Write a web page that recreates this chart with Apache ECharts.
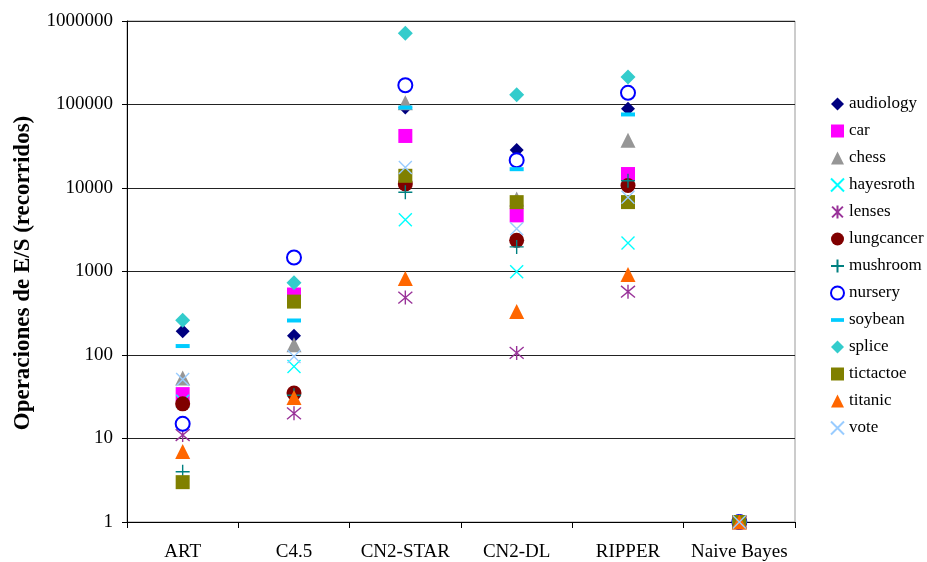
<!DOCTYPE html>
<html>
<head>
<meta charset="utf-8">
<script src="https://cdn.jsdelivr.net/npm/echarts@6/dist/echarts.min.js"></script>
<style>
  html, body { margin: 0; padding: 0; background: #fff; }
  #chart { width: 927px; height: 562px; }
</style>
</head>
<body>
<div id="chart"></div>
<script>
// Algorithms along the x axis
var algorithms = ['ART', 'C4.5', 'CN2-STAR', 'CN2-DL', 'RIPPER', 'Naive Bayes'];

// I/O operations per dataset, one value per algorithm
var audiology   = [193, 170, 92000, 28600, 88800, 1];
var car         = [34, 530, 42000, 4700, 14700, 1];
var chess       = [53, 133, 105000, 7400, 37300, 1];
var hayesroth   = [28, 73, 4160, 990, 2190, 1];
var lenses      = [11, 20, 487, 106, 573, 1];
var lungcancer  = [26, 35, 11200, 2360, 10700, 1];
var mushroom    = [4, 33, 8900, 1970, 12200, 1];
var nursery     = [15, 1470, 170000, 21500, 138000, 1];
var soybean     = [128, 259, 92000, 16800, 76000, 1];
var splice      = [261, 733, 713000, 131000, 214000, 1];
var tictactoe   = [3, 436, 14000, 6770, 6780, 1];
var titanic     = [7, 31, 826, 331, 921, 1];
var vote        = [51, 96, 17600, 3240, 7750, 1];

var yTicks = ['1', '10', '100', '1000', '10000', '100000', '1000000'];

var X_PATH = 'path://M0,0L10,10M10,0L0,10';
var STAR_PATH = 'path://M0,0L10,10M10,0L0,10M5,-1L5,11';
var PLUS_PATH = 'path://M5,0L5,10M0,5L10,5';
var DASH_PATH = 'path://M0,0L14,0L14,4L0,4Z';

var seriesDefs = [
  { name: 'audiology',  data: audiology,  symbol: 'diamond',  color: '#000080', size: 14 },
  { name: 'car',        data: car,        symbol: 'rect',     color: '#ff00ff', size: 14 },
  { name: 'chess',      data: chess,      symbol: 'triangle', color: '#969696', size: 15 },
  { name: 'hayesroth',  data: hayesroth,  symbol: X_PATH,     color: '#00ffff', size: 13, stroke: true },
  { name: 'lenses',     data: lenses,     symbol: STAR_PATH,  color: '#993399', size: 14, stroke: true },
  { name: 'lungcancer', data: lungcancer, symbol: 'circle',   color: '#800000', size: 15 },
  { name: 'mushroom',   data: mushroom,   symbol: PLUS_PATH,  color: '#008080', size: 14, stroke: true },
  { name: 'nursery',    data: nursery,    symbol: 'emptyCircle', color: '#0000ff', size: 14 },
  { name: 'soybean',    data: soybean,    symbol: DASH_PATH,  color: '#00ccff', size: 14, keepAspect: true },
  { name: 'splice',     data: splice,     symbol: 'diamond',  color: '#33cccc', size: 15 },
  { name: 'tictactoe',  data: tictactoe,  symbol: 'rect',     color: '#808000', size: 14 },
  { name: 'titanic',    data: titanic,    symbol: 'triangle', color: '#ff6600', size: 15 },
  { name: 'vote',       data: vote,       symbol: X_PATH,     color: '#99ccff', size: 13, stroke: true }
];

var FONT = '"Liberation Serif", "Times New Roman", serif';

var series = seriesDefs.map(function (d) {
  var itemStyle = { color: d.color, opacity: 1 };
  if (d.stroke) {
    itemStyle.borderColor = d.color;
    itemStyle.borderWidth = 1.4;
  } else if (d.symbol === 'emptyCircle') {
    itemStyle.borderWidth = 1.5;
  }
  return {
    name: d.name,
    type: 'scatter',
    data: d.data,
    symbol: d.symbol,
    symbolSize: d.size,
    symbolKeepAspect: !!d.keepAspect,
    itemStyle: itemStyle,
    emphasis: { disabled: true },
    animation: false
  };
});

var chart = echarts.init(document.getElementById('chart'), null, { renderer: 'canvas' });
chart.setOption({
  backgroundColor: '#ffffff',
  animation: false,
  grid: {
    left: 127, right: 132, top: 21, bottom: 38,
    show: true, borderColor: '#999999', borderWidth: 1, backgroundColor: 'transparent'
  },
  legend: {
    orient: 'vertical',
    left: 825,
    top: 90,
    itemWidth: 13,
    itemHeight: 13,
    itemGap: 9,
    textStyle: { fontFamily: FONT, fontSize: 17, color: '#000', lineHeight: 18 },
    data: seriesDefs.map(function (d) {
      return d.keepAspect ? { name: d.name, icon: DASH_PATH } : d.name;
    })
  },
  xAxis: {
    type: 'category',
    data: algorithms,
    boundaryGap: true,
    axisLine: { lineStyle: { color: '#000', width: 1 } },
    axisTick: { show: true, length: 6, alignWithLabel: false, lineStyle: { color: '#000' } },
    axisLabel: { fontFamily: FONT, fontSize: 19, color: '#000', margin: 21, interval: 0 },
    splitLine: { show: false }
  },
  yAxis: {
    type: 'log',
    logBase: 10,
    min: 1,
    max: 1000000,
    axisLine: { show: true, lineStyle: { color: '#000', width: 1 } },
    axisTick: { show: true, length: 5, lineStyle: { color: '#000' } },
    axisLabel: {
      fontFamily: FONT, fontSize: 19, color: '#000', margin: 14,
      formatter: function (v) {
        var idx = Math.round(Math.log10(v));
        return yTicks[idx] !== undefined ? yTicks[idx] : '';
      }
    },
    splitLine: { show: true, lineStyle: { color: '#222', width: 1 } }
  },
  graphic: [{
    type: 'text',
    x: 23,
    y: 273,
    rotation: Math.PI / 2,
    style: {
      text: 'Operaciones de E/S (recorridos)',
      font: 'bold 23px ' + FONT,
      fill: '#000',
      align: 'center',
      verticalAlign: 'middle'
    }
  }],
  series: series
});
</script>
</body>
</html>
